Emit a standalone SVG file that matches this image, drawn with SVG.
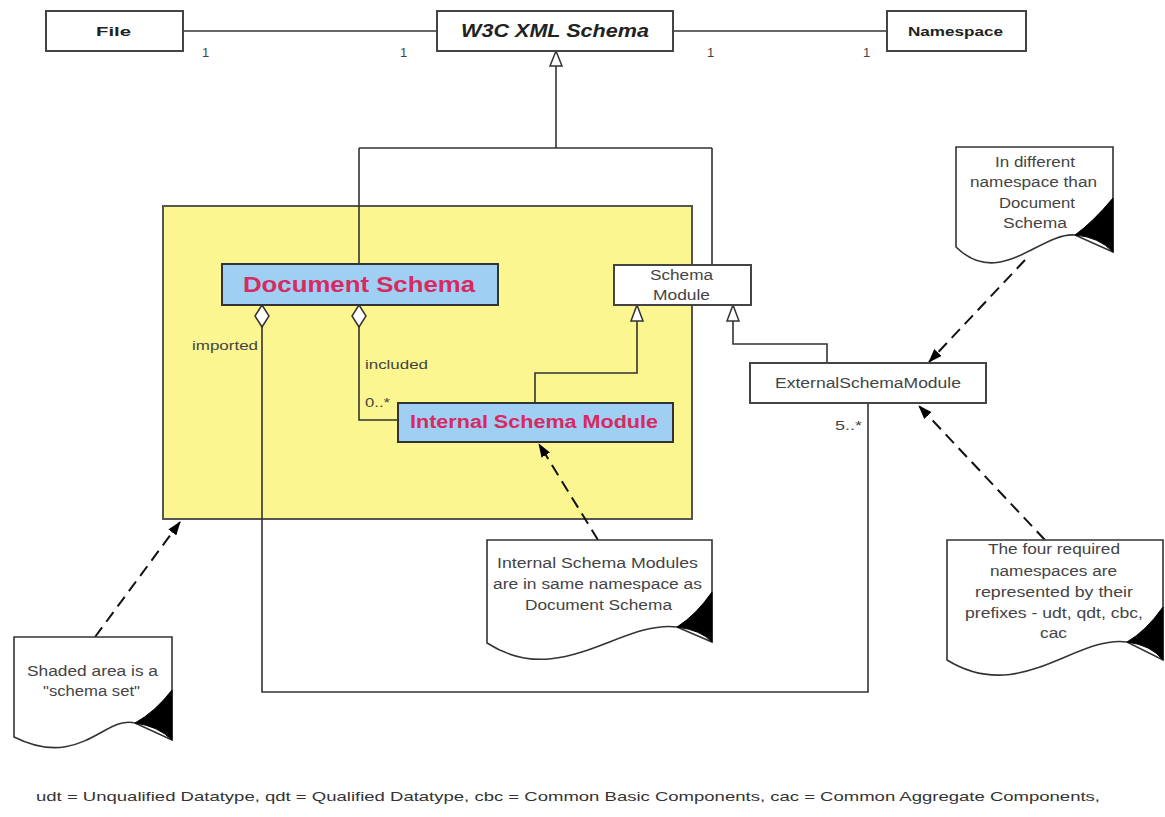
<svg xmlns="http://www.w3.org/2000/svg" width="1165" height="817" viewBox="0 0 1165 817">
<defs>
<style>
text{font-family:"Liberation Sans",Arial,sans-serif;fill:#333}
.box{fill:#fff;stroke:#444;stroke-width:2}
.blue{fill:#a0cff4;stroke:#333;stroke-width:2}
.ln{fill:none;stroke:#333;stroke-width:1.6}
.dash{fill:none;stroke:#111;stroke-width:2;stroke-dasharray:12 7}
.gen{fill:#fff;stroke:#333;stroke-width:1.5}
.note{fill:#fff;stroke:#333;stroke-width:1.6}
.fold{fill:#000;stroke:#000;stroke-width:1}
.b{font-weight:bold;fill:#222}
.red{font-weight:bold;fill:#d62a60}
.lbl{font-size:13px;fill:#444}
.nt{font-size:14px;fill:#444}
</style>
<marker id="ah" markerWidth="14" markerHeight="10" refX="13" refY="5" orient="auto" markerUnits="userSpaceOnUse">
<path d="M0,0 L14,5 L0,10 Z" fill="#000"/>
</marker>
</defs>
<rect width="1165" height="817" fill="#fff"/>

<g id="schema-set">
<rect x="163" y="206" width="529" height="313" fill="#fbf68f" stroke="#555" stroke-width="2"/>
</g>

<g id="connectors">
<path class="ln" d="M183,31 H437"/>
<path class="ln" d="M673,31 H887"/>
<path class="ln" d="M556,66 V148 M359,148 H712 M359,148 V264 M712,148 V265"/>
<path class="ln" d="M535,403 V373 H637 V321"/>
<path class="ln" d="M827,363 V344 H733 V321"/>
<path class="ln" d="M262,327 V692 H868 V403"/>
<path class="ln" d="M359,327 V420 H398"/>
<polygon class="gen" points="556,51 562,66 550,66"/>
<polygon class="gen" points="637,305 643,321 631,321"/>
<polygon class="gen" points="733,305 739,321 727,321"/>
<polygon class="gen" points="262,305 269,316 262,327 255,316"/>
<polygon class="gen" points="359,305 366,316 359,327 352,316"/>
<path class="dash" d="M1025,260 L929,362" marker-end="url(#ah)"/>
<path class="dash" d="M598,540 L539,444" marker-end="url(#ah)"/>
<path class="dash" d="M1045,540 L919,406" marker-end="url(#ah)"/>
<path class="dash" d="M95,637 L180,522" marker-end="url(#ah)"/>
<text class="lbl" x="202" y="57">1</text>
<text class="lbl" x="400" y="57">1</text>
<text class="lbl" x="707" y="57">1</text>
<text class="lbl" x="863" y="57">1</text>
<text class="lbl" x="192" y="350" textLength="66" lengthAdjust="spacingAndGlyphs">imported</text>
<text class="lbl" x="365" y="369" textLength="63" lengthAdjust="spacingAndGlyphs">included</text>
<text class="lbl" x="365" y="407" textLength="25" lengthAdjust="spacingAndGlyphs">0..*</text>
<text class="lbl" x="835" y="430" textLength="27" lengthAdjust="spacingAndGlyphs">5..*</text>
</g>

<g id="file">
<rect class="box" x="46" y="11" width="137" height="40"/>
<text class="b" x="96" y="36" font-size="13" textLength="35" lengthAdjust="spacingAndGlyphs">File</text>
</g>

<g id="w3c-xml-schema">
<rect class="box" x="437" y="11" width="236" height="40"/>
<text class="b" x="461" y="37" font-size="18" font-style="italic" textLength="188" lengthAdjust="spacingAndGlyphs">W3C XML Schema</text>
</g>

<g id="namespace">
<rect class="box" x="887" y="11" width="139" height="40"/>
<text class="b" x="908" y="36" font-size="13" textLength="95" lengthAdjust="spacingAndGlyphs">Namespace</text>
</g>

<g id="document-schema">
<rect class="blue" x="222" y="264" width="276" height="41"/>
<text class="red" x="243" y="292" font-size="22" textLength="232" lengthAdjust="spacingAndGlyphs">Document Schema</text>
</g>

<g id="schema-module">
<rect class="box" x="614" y="265" width="137" height="40"/>
<text class="nt" x="650" y="280" font-size="15" textLength="63" lengthAdjust="spacingAndGlyphs">Schema</text>
<text class="nt" x="653" y="300" font-size="15" textLength="57" lengthAdjust="spacingAndGlyphs">Module</text>
</g>

<g id="internal-schema-module">
<rect class="blue" x="398" y="403" width="275" height="39"/>
<text class="red" x="410" y="428" font-size="18" textLength="248" lengthAdjust="spacingAndGlyphs">Internal Schema Module</text>
</g>

<g id="external-schema-module">
<rect class="box" x="750" y="363" width="236" height="40"/>
<text class="nt" x="775" y="388" textLength="186" lengthAdjust="spacingAndGlyphs">ExternalSchemaModule</text>
</g>

<g id="note-namespace">
<path class="note" d="M956,147 H1113 V252 L1075,235 C1040,232 1000,290 956,247 Z"/>
<path class="fold" d="M1113,198 Q1093,222 1075,235 Q1099,237 1113,252 Z"/>
<text class="nt" x="995" y="167" textLength="80" lengthAdjust="spacingAndGlyphs">In different</text>
<text class="nt" x="970" y="187" textLength="127" lengthAdjust="spacingAndGlyphs">namespace than</text>
<text class="nt" x="999" y="208" textLength="76" lengthAdjust="spacingAndGlyphs">Document</text>
<text class="nt" x="1003" y="228" textLength="64" lengthAdjust="spacingAndGlyphs">Schema</text>
</g>

<g id="note-internal">
<path class="note" d="M487,540 H712 V642 L677,627 C620,620 560,690 487,643 Z"/>
<path class="fold" d="M712,592 Q696,615 677,627 Q701,630 712,642 Z"/>
<text class="nt" x="497" y="568" textLength="201" lengthAdjust="spacingAndGlyphs">Internal Schema Modules</text>
<text class="nt" x="493" y="589" textLength="209" lengthAdjust="spacingAndGlyphs">are in same namespace as</text>
<text class="nt" x="525" y="610" textLength="147" lengthAdjust="spacingAndGlyphs">Document Schema</text>
</g>

<g id="note-prefixes">
<path class="note" d="M947,540 H1163 V660 L1127,642 C1075,635 1020,705 947,660 Z"/>
<path class="fold" d="M1163,607 Q1146,631 1127,642 Q1151,645 1163,660 Z"/>
<text class="nt" x="988" y="554" textLength="132" lengthAdjust="spacingAndGlyphs">The four required</text>
<text class="nt" x="990" y="576" textLength="127" lengthAdjust="spacingAndGlyphs">namespaces are</text>
<text class="nt" x="975" y="597" textLength="158" lengthAdjust="spacingAndGlyphs">represented by their</text>
<text class="nt" x="965" y="618" textLength="178" lengthAdjust="spacingAndGlyphs">prefixes - udt, qdt, cbc,</text>
<text class="nt" x="1040" y="638" textLength="27" lengthAdjust="spacingAndGlyphs">cac</text>
</g>

<g id="note-schema-set">
<path class="note" d="M14,637 H172 V740 L135,723 C105,715 80,770 14,737 Z"/>
<path class="fold" d="M172,690 Q155,712 135,723 Q158,726 172,740 Z"/>
<text class="nt" x="27" y="676" textLength="131" lengthAdjust="spacingAndGlyphs">Shaded area is a</text>
<text class="nt" x="43" y="696" textLength="97" lengthAdjust="spacingAndGlyphs">"schema set"</text>
</g>

<g id="footer">
<text x="36" y="801" font-size="13" fill="#555" textLength="1064" lengthAdjust="spacingAndGlyphs">udt = Unqualified Datatype, qdt = Qualified Datatype, cbc = Common Basic Components, cac = Common Aggregate Components,</text>
</g>
</svg>
